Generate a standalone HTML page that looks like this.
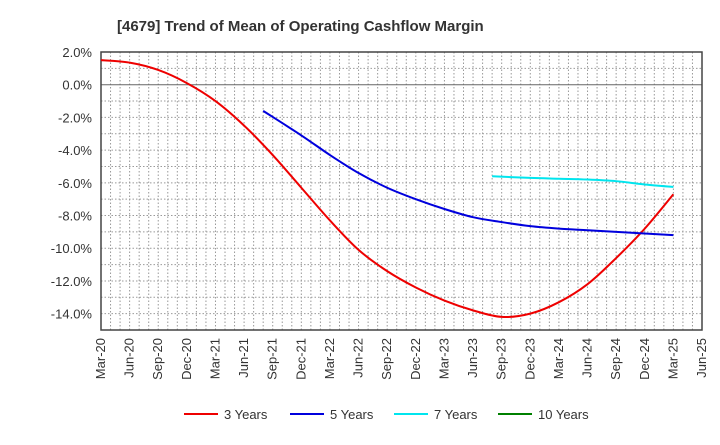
<!DOCTYPE html>
<html><head><meta charset="utf-8"><style>
body{margin:0;background:#fff;font-family:"Liberation Sans",sans-serif}
</style></head><body>
<svg id="c" width="720" height="440" xmlns="http://www.w3.org/2000/svg">
<text x="117" y="31" font-size="15" font-weight="bold" fill="#333">[4679]  Trend of Mean of Operating Cashflow Margin</text>
<g id="grid"></g><g id="axes"></g><g id="series"></g><g id="legend"></g>
</svg>
<script>
const xLabels=["Mar-20","Jun-20","Sep-20","Dec-20","Mar-21","Jun-21","Sep-21","Dec-21","Mar-22","Jun-22","Sep-22","Dec-22","Mar-23","Jun-23","Sep-23","Dec-23","Mar-24","Jun-24","Sep-24","Dec-24","Mar-25","Jun-25"];
const yTicks=[2,0,-2,-4,-6,-8,-10,-12,-14];
const months3=[0,3,6,9,12,15,18,21,24,27,30,33,36,39,42,45,48,51,54,57,60];
const vals3=[1.5,1.35,0.9,0.1,-1.0,-2.5,-4.3,-6.3,-8.3,-10.1,-11.4,-12.4,-13.2,-13.8,-14.2,-14.0,-13.3,-12.2,-10.6,-8.8,-6.7];
const months5=[17,21,24,27,30,33,36,39,42,45,48,51,54,57,60];
const vals5=[-1.6,-3.1,-4.3,-5.4,-6.3,-7.0,-7.6,-8.1,-8.4,-8.65,-8.8,-8.9,-9.0,-9.1,-9.2];
const months7=[41,45,48,51,54,57,60];
const vals7=[-5.6,-5.7,-5.75,-5.8,-5.9,-6.1,-6.25];
const months10=[];const vals10=[];
const L=101,R=702,T=52,B=330,yMin=-15,yMax=2,nM=63;
const X=m=>L+(R-L)*m/nM, Y=v=>T+(B-T)*(yMax-v)/(yMax-yMin);
const NS="http://www.w3.org/2000/svg";
function mk(t,a,p){const e=document.createElementNS(NS,t);for(const k in a)e.setAttribute(k,a[k]);p.appendChild(e);return e;}
const g=document.getElementById('grid');
for(let m=1;m<nM;m++){const l=mk('line',{x1:X(m),x2:X(m),y1:T,y2:B,stroke:'#999','stroke-dasharray':'1.5,2','stroke-width':1},g);

}
for(let v=yMin+1;v<yMax;v++){const l=mk('line',{x1:L,x2:R,y1:Y(v),y2:Y(v),stroke:v===0?'#666':'#999','stroke-dasharray':v===0?'':'1.5,2','stroke-width':1},g);

}
const a=document.getElementById('axes');
const fr=mk('rect',{x:L,y:T,width:R-L,height:B-T,fill:'none',stroke:'#444','stroke-width':1.5},a);


yTicks.forEach(v=>{const t=mk('text',{x:L-9,y:Y(v)+5,'text-anchor':'end','font-size':13,fill:'#333'},a);t.textContent=v.toFixed(1)+'%';

});
xLabels.forEach((s,i)=>{const x=X(i*3)+4,y=B+8;const t=mk('text',{x:x,y:y,'text-anchor':'end','font-size':13,fill:'#333',transform:`rotate(-90 ${x} ${y})`},a);t.textContent=s;

});
function path(ms,vs){const p=ms.map((m,i)=>[X(m),Y(vs[i])]);if(!p.length)return'';let d=`M${p[0][0]},${p[0][1]}`;
for(let i=0;i<p.length-1;i++){const p0=p[i-1]||p[i],p1=p[i],p2=p[i+1],p3=p[i+2]||p2;
d+=` C${p1[0]+(p2[0]-p0[0])/6},${p1[1]+(p2[1]-p0[1])/6} ${p2[0]-(p3[0]-p1[0])/6},${p2[1]-(p3[1]-p1[1])/6} ${p2[0]},${p2[1]}`;}return d;}
const s=document.getElementById('series');
const series=[[months3,vals3,'#ee0000','3 Years','line-3-years'],[months5,vals5,'#0000dd','5 Years','line-5-years'],[months7,vals7,'#00e5ee','7 Years','line-7-years'],[months10,vals10,'#008000','10 Years','line-10-years']];
series.forEach(([m,v,c,n,id])=>{if(!m.length)return;const p=mk('path',{d:path(m,v),fill:'none',stroke:c,'stroke-width':2},s);

});
const lg=document.getElementById('legend');
const lx=[184,290,394,498];
series.forEach(([m,v,c,n],i)=>{const l=mk('line',{x1:lx[i],x2:lx[i]+34,y1:414,y2:414,stroke:c,'stroke-width':2},lg);


const t=mk('text',{x:lx[i]+40,y:419,'font-size':13,fill:'#333'},lg);t.textContent=n;

});
</script>
</body></html>
